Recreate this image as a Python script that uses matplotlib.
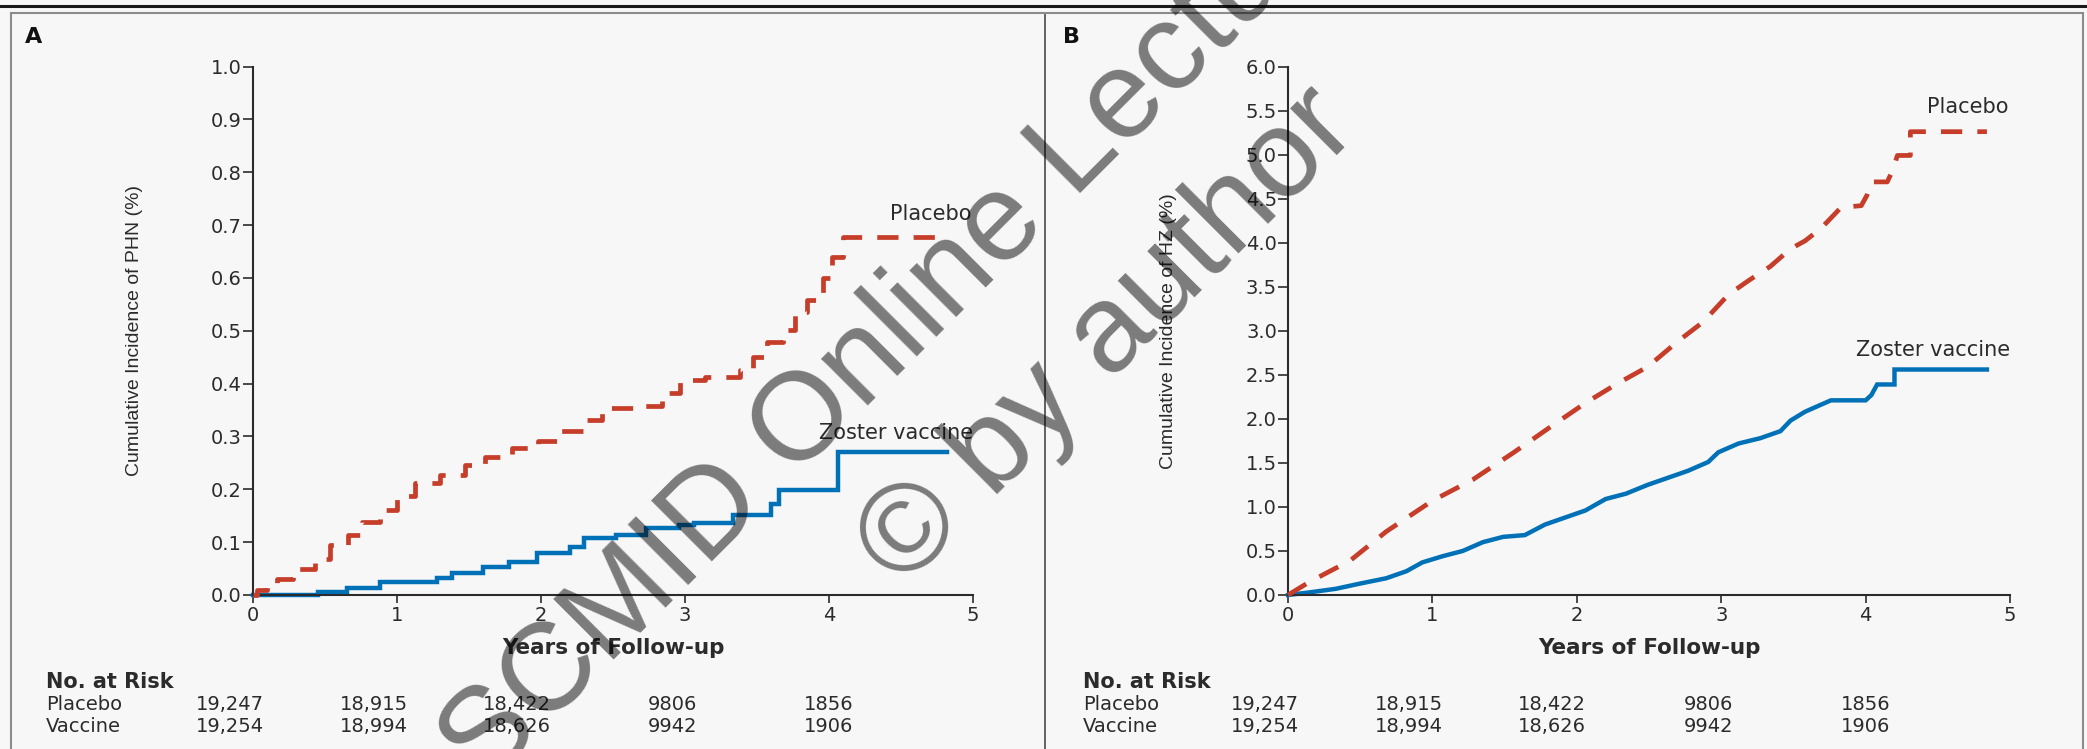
import numpy as np
import matplotlib
matplotlib.use("Agg")
import matplotlib.pyplot as plt
import matplotlib.transforms as mtransforms
from matplotlib.lines import Line2D
from matplotlib.ticker import FormatStrFormatter

# Panel A: cumulative incidence of PHN (%)
phn_placebo_t = [0, 0.03, 0.10, 0.17, 0.28, 0.43, 0.535, 0.66, 0.755, 0.882, 0.998, 1.125,
                 1.299, 1.472, 1.611, 1.796, 1.981, 2.132, 2.306, 2.421, 2.653, 2.838, 2.965,
                 3.139, 3.382, 3.474, 3.567, 3.683, 3.764, 3.845, 3.96, 4.02, 4.10, 4.82]
phn_placebo_v = [0, 0.01, 0.02, 0.03, 0.05, 0.068, 0.095, 0.113, 0.139, 0.161, 0.187, 0.211,
                 0.227, 0.246, 0.262, 0.278, 0.292, 0.311, 0.331, 0.353, 0.358, 0.382, 0.407,
                 0.412, 0.426, 0.450, 0.479, 0.501, 0.536, 0.558, 0.600, 0.640, 0.678, 0.678]
phn_vaccine_t = [0, 0.45, 0.65, 0.88, 1.28, 1.38, 1.60, 1.78, 1.97, 2.20, 2.30, 2.52, 2.73,
                 2.96, 3.06, 3.33, 3.60, 3.65, 4.06, 4.82]
phn_vaccine_v = [0, 0.006, 0.013, 0.025, 0.032, 0.041, 0.053, 0.063, 0.079, 0.091, 0.107,
                 0.113, 0.126, 0.133, 0.137, 0.151, 0.172, 0.199, 0.271, 0.271]

# Panel B: cumulative incidence of HZ (%)
hz_placebo_t = [0, 0.15, 0.43, 0.68, 1.00, 1.28, 1.565, 1.81, 2.06, 2.27, 2.49, 2.70, 2.875,
                3.05, 3.19, 3.34, 3.48, 3.58, 3.69, 3.83, 3.97, 4.01, 4.04, 4.15, 4.19, 4.22,
                4.31, 4.31, 4.84]
hz_placebo_v = [0, 0.15, 0.39, 0.72, 1.07, 1.31, 1.62, 1.90, 2.18, 2.39, 2.59, 2.88, 3.10,
                3.41, 3.57, 3.73, 3.93, 4.02, 4.16, 4.40, 4.42, 4.54, 4.69, 4.69, 4.83, 4.99,
                4.99, 5.26, 5.26]
hz_vaccine_t = [0, 0.15, 0.33, 0.50, 0.68, 0.82, 0.93, 1.07, 1.21, 1.35, 1.49, 1.64, 1.78,
                1.92, 2.06, 2.20, 2.34, 2.49, 2.63, 2.77, 2.91, 2.98, 3.12, 3.27, 3.41, 3.48,
                3.58, 3.69, 3.76, 4.00, 4.04, 4.08, 4.20, 4.20, 4.84]
hz_vaccine_v = [0, 0.03, 0.07, 0.13, 0.19, 0.27, 0.37, 0.44, 0.50, 0.60, 0.66, 0.68, 0.80,
                0.88, 0.96, 1.09, 1.15, 1.25, 1.33, 1.41, 1.51, 1.62, 1.72, 1.78, 1.86, 1.98,
                2.08, 2.16, 2.21, 2.21, 2.27, 2.39, 2.39, 2.56, 2.56]

risk_groups = ["Placebo", "Vaccine"]
risk_placebo = ["19,247", "18,915", "18,422", "9806", "1856"]
risk_vaccine = ["19,254", "18,994", "18,626", "9942", "1906"]
risk_cols = [-0.16, 0.84, 1.83, 2.91, 4.0]

RED = "#c63d2a"
BLUE = "#0071b7"
INK = "#2b2b2b"

W, H = 2087, 749
fig = plt.figure(figsize=(W / 100, H / 100), dpi=100, facecolor="#f7f7f7")


def fx(px):
    return px / W


def fy(py):
    return 1 - py / H


ax_top, ax_bot = 66.5, 595
axA = fig.add_axes([fx(253), fy(ax_bot), (973 - 253) / W, (ax_bot - ax_top) / H])
axB = fig.add_axes([fx(1288), fy(ax_bot), (2010 - 1288) / W, (ax_bot - ax_top) / H])


def style(ax, ymax, ystep, ylabel):
    ax.patch.set_alpha(0)
    ax.set_xlim(0, 5)
    ax.set_ylim(0, ymax)
    for s in ["top", "right"]:
        ax.spines[s].set_visible(False)
    for s in ["left", "bottom"]:
        ax.spines[s].set_color(INK)
        ax.spines[s].set_linewidth(1.5)
    ax.set_xticks(range(6))
    ax.set_yticks(np.arange(0, ymax + ystep / 2, ystep))
    ax.yaxis.set_major_formatter(FormatStrFormatter("%.1f"))
    ax.tick_params(axis="y", direction="out", length=7, width=1.2, pad=1,
                   labelsize=14, colors=INK)
    ax.tick_params(axis="x", direction="out", length=6, width=1.2, pad=2,
                   labelsize=14, colors=INK)
    ax.text(-0.165, 0.5, ylabel, transform=ax.transAxes, rotation=90,
            ha="center", va="center", fontsize=14, family="Liberation Sans", color=INK)
    ax.text(0.5, -0.10, "Years of Follow-up", transform=ax.transAxes,
            ha="center", va="center", fontsize=15.5, fontweight="bold", color=INK)


def curves(ax, pt, pv, vt, vv, step):
    ds = "steps-post" if step else "default"
    ax.plot(vt, vv, color=BLUE, lw=3.2, drawstyle=ds, clip_on=False, zorder=2,
            solid_joinstyle="miter")
    ax.plot(pt, pv, color=RED, lw=3.4, drawstyle=ds, clip_on=False, zorder=3,
            dashes=(4.5, 3.2), dash_capstyle="butt")


style(axA, 1.0, 0.1, "Cumulative Incidence of PHN (%)")
style(axB, 6.0, 0.5, "Cumulative Incidence of HZ (%)")
curves(axA, phn_placebo_t, phn_placebo_v, phn_vaccine_t, phn_vaccine_v, True)
curves(axB, hz_placebo_t, hz_placebo_v, hz_vaccine_t, hz_vaccine_v, False)

axA.text(4.99, 0.721, "Placebo", ha="right", va="center", fontsize=15, color=INK)
axA.text(5.0, 0.3065, "Zoster vaccine", ha="right", va="center", fontsize=15, color=INK)
axB.text(4.99, 5.54, "Placebo", ha="right", va="center", fontsize=15, color=INK)
axB.text(5.0, 2.78, "Zoster vaccine", ha="right", va="center", fontsize=15, color=INK)

# panel letters and risk tables
for ax, letter, lx, tx in [(axA, "A", 25, 46), (axB, "B", 1063, 1083)]:
    fig.text(fx(lx), fy(37), letter, ha="left", va="center", fontsize=16,
             fontweight="bold", color="#111")
    fig.text(fx(tx), fy(682), "No. at Risk", ha="left", va="center", fontsize=15,
             fontweight="bold", color=INK)
    tr = mtransforms.blended_transform_factory(ax.transData, fig.transFigure)
    for row, (name, vals) in enumerate(zip(risk_groups, [risk_placebo, risk_vaccine])):
        y = fy(705 + 22 * row)
        fig.text(fx(tx), y, name, ha="left", va="center", fontsize=14, color=INK)
        for c, v in zip(risk_cols, vals):
            ax.text(c, y, v, transform=tr, ha="center", va="center", fontsize=14,
                    color=INK, clip_on=False)

# frame rules
fig.add_artist(Line2D([0, 1], [fy(6), fy(6)], transform=fig.transFigure,
                      color="#1a1a1a", lw=2.2))
box = dict(transform=fig.transFigure, color="#8c8c8c", lw=1.5)
fig.add_artist(Line2D([fx(11), fx(2083)], [fy(13), fy(13)], **box))
fig.add_artist(Line2D([fx(11), fx(11)], [fy(13), 0], **box))
fig.add_artist(Line2D([fx(2083), fx(2083)], [fy(13), 0], **box))
fig.add_artist(Line2D([fx(1045), fx(1045)], [fy(15), 0], transform=fig.transFigure,
                      color="#555555", lw=1.3))

# watermark
wm = dict(rotation=45, rotation_mode="anchor", ha="center", va="baseline",
          fontsize=90, family="Liberation Sans", color="black", alpha=0.5, zorder=10)
fig.text(fx(926), fy(347), "SCMID Online Lecture", **wm)
fig.text(fx(1132), fy(361), "\u00a9 by author", **wm)

fig.savefig("out.png", dpi=100, facecolor=fig.get_facecolor())
